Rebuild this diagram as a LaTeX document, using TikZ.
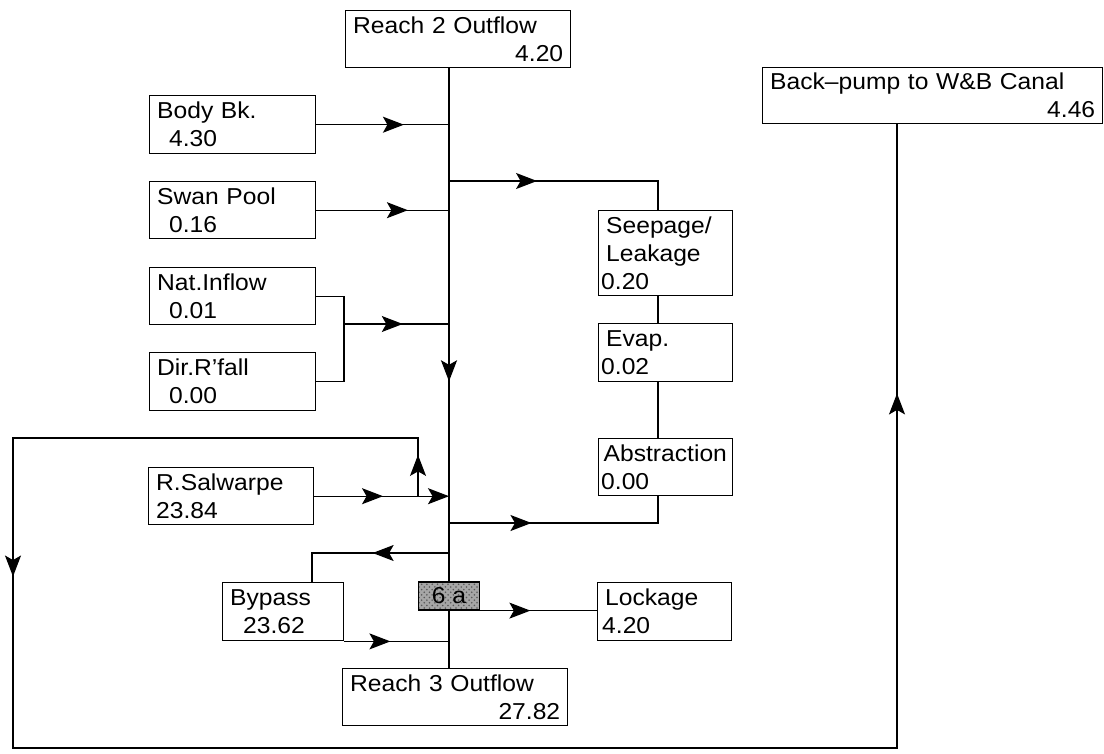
\documentclass[tikz,border=0pt]{standalone}
\usepackage{fontspec}
\setmainfont{Liberation Sans}[FakeStretch=1.07]
\usetikzlibrary{arrows.meta,decorations.markings,patterns}
\newcommand{\fs}{\fontsize{13.1}{15.9}\selectfont}
\tikzset{
  blk/.style={draw,line width=.8pt,anchor=north west,align=left,
              inner xsep=.15cm,inner ysep=0pt,font=\fs},
  ln/.style={line width=.75pt},
  mainln/.style={line width=1.2pt},
  midar/.style={postaction={decorate},decoration={markings,
              mark=at position #1 with {\arrow{>}}}},
  hatchbox/.style={draw,line width=.7pt,preaction={fill=black!35},
              pattern=crosshatch dots,pattern color=black!65,
              minimum width=1.22cm,minimum height=.56cm,inner sep=0pt,font=\fs},
  >={Stealth[length=4.2mm,width=3.2mm,inset=.9mm]},
}

\begin{document}
\begin{tikzpicture}[x=0.02cm,y=-0.02cm]
  \useasboundingbox (0,0) rectangle (1104,753);
  % reach boxes
  \node[blk,text width=4.2cm,minimum height=1.14cm] (r2out) at (345,10)
       {Reach 2 Outflow\\\mbox{}\hfill 4.20};
  \node[blk,text width=4.2cm,minimum height=1.14cm] (r3out) at (342,668)
       {Reach 3 Outflow\\\mbox{}\hfill 27.82};
  \node[blk,text width=6.5cm,minimum height=1.12cm] (pump) at (762,67)
       {Back--pump to W\&B Canal\\\mbox{}\hfill 4.46};
  % inflows
  \node[blk,text width=3.02cm,minimum height=1.16cm] (bodybk) at (149,95)
       {Body Bk.\\\hspace*{.24cm}4.30};
  \node[blk,text width=3.02cm,minimum height=1.14cm] (swan) at (149,181)
       {Swan Pool\\\hspace*{.24cm}0.16};
  \node[blk,text width=3.02cm,minimum height=1.14cm] (natin) at (149,267)
       {Nat.Inflow\\\hspace*{.24cm}0.01};
  \node[blk,text width=3.02cm,minimum height=1.16cm] (dirrf) at (149,352)
       {Dir.R'fall\\\hspace*{.24cm}0.00};
  \node[blk,text width=3.0cm,minimum height=1.14cm] (salw) at (148,467)
       {R.Salwarpe\\23.84};
  \node[blk,text width=2.12cm,minimum height=1.16cm] (bypass) at (222,582)
       {Bypass\\\hspace*{.26cm}23.62};
  % outflows
  \node[blk,text width=2.38cm,minimum height=1.7cm] (seep) at (598,210)
       {Seepage/\\Leakage\\\hspace*{-.1cm}0.20};
  \node[blk,text width=2.38cm,minimum height=1.16cm] (evap) at (598,323)
       {Evap.\\\hspace*{-.1cm}0.02};
  \node[blk,inner xsep=.1cm,text width=2.48cm,minimum height=1.14cm] (abstr) at (598,438)
       {Abstraction\\\hspace*{-.05cm}0.00};
  \node[blk,text width=2.38cm,minimum height=1.16cm] (lock) at (597,582)
       {Lockage\\\hspace*{-.06cm}4.20};
  \node[hatchbox] (sixa) at (449,596) {6 a};

  % junctions
  \coordinate (brS) at (449,181);
  \coordinate (brA) at (449,523);
  \coordinate (brB) at (449,553);
  \coordinate (brR) at (418,495.5);
  \coordinate (njoin) at (344,324);
  \coordinate (rcol) at (658,0);
  \coordinate (byx) at (312,0);
  \coordinate (lpL) at (13,438);
  \coordinate (lpB) at (13,748);
  \coordinate (pmpx) at (897,0);

  % main channel
  \draw[mainln,midar=.61] (r2out.south -| sixa) -- (sixa.north);
  \draw[mainln] (sixa.south) -- (r3out.north -| sixa);
  \node[hatchbox] at (sixa) {6 a};

  \draw[ln,midar=.66] (bodybk.east) -- (bodybk.east -| sixa);
  \draw[ln,midar=.69] (swan.east) -- (swan.east -| sixa);
  \draw[ln] (natin.east) -| (njoin) |- (dirrf.east);
  \draw[ln,midar=.56] (njoin) -- (njoin -| sixa);
  \draw[ln,midar=.51,->] (salw.east) -- (salw.east -| sixa);
  \draw[ln,midar=.46] (brB) -| (bypass.north -| byx);
  \draw[ln,midar=.44] (bypass.south east) -- (bypass.south east -| sixa);

  \draw[ln,midar=.37] (brS) -| (seep.north -| rcol);
  \draw[ln] (seep.south -| rcol) -- (evap.north -| rcol);
  \draw[ln] (evap.south -| rcol) -- (abstr.north -| rcol);
  \draw[ln,midar=.35] (brA) -| (abstr.south -| rcol);
  \draw[ln,midar=.43] (sixa.south east) -- (lock.west |- sixa.south east);

  % back-pump loop
  \draw[ln,postaction={decorate},decoration={markings,
        mark=at position .0178 with {\arrow{>}},
        mark=at position .2636 with {\arrow{>}},
        mark=at position .882 with {\arrow{>}}}]
    (brR) |- (lpL) -- (lpB) -| (pump.south -| pmpx);
\end{tikzpicture}
\end{document}
